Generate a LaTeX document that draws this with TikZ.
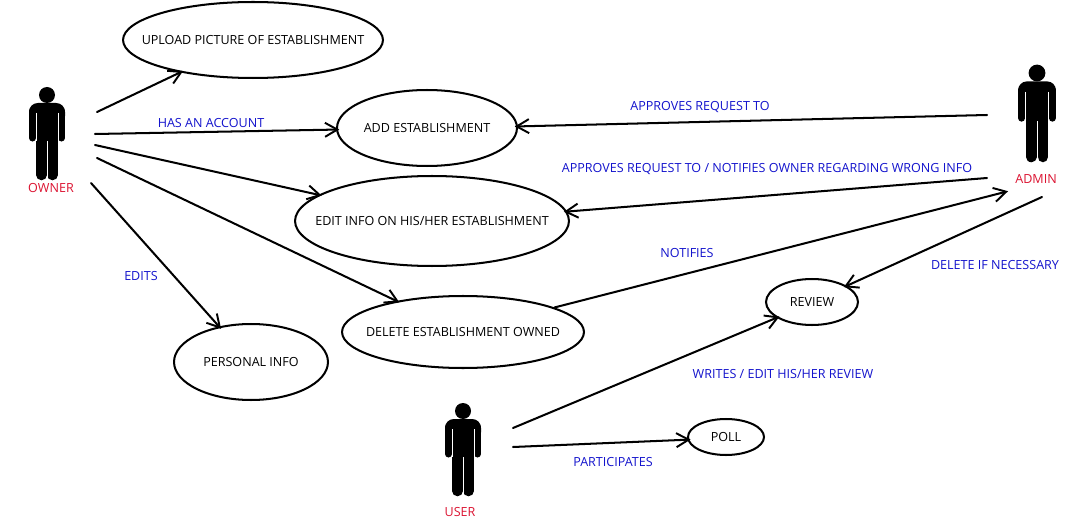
\documentclass[tikz,border=0pt]{standalone}
\usepackage{fontspec}
\setmainfont{Open Sans}
\usepackage{tikz}
\usetikzlibrary{arrows.meta,shapes.geometric}
\definecolor{labelblue}{RGB}{20,20,205}
\definecolor{labelred}{RGB}{220,20,50}
\newcommand{\uctext}[1]{\makebox[0pt]{\raisebox{-0.5pt}{#1}}}
\tikzset{
  usecase/.style={draw,ellipse,line width=1.15pt,inner sep=0pt,font=\fontsize{7.15}{8}\selectfont},
  rel/.style={line width=1.15pt,line cap=round},
  relarrow/.style={rel,shorten >=-1.8pt,-{Straight Barb[length=7pt,width=8pt,line width=1.1pt]}},
  bluelabel/.style={text=labelblue,font=\fontsize{7.15}{8}\selectfont,inner sep=0pt,yshift=-0.5pt},
  redlabel/.style={text=labelred,font=\fontsize{7.15}{8}\selectfont,inner sep=0pt,yshift=-0.5pt},
  actor/.pic={
    \fill (0,0) circle (8);
    \fill[rounded corners=5pt] (-18,30) -- (-18,8) -- (18,8) -- (18,30) -- cycle;
    \fill (-11,20) rectangle (11,46);
    \draw[line width=4pt,line cap=round] (-14.5,16) -- (-14.5,43) (14.5,16) -- (14.5,43);
    \draw[line width=6pt,line cap=round] (-5.5,40) -- (-5.5,80) (5.5,40) -- (5.5,80);
    \draw[white,line width=0.55pt] (-11,18) -- (-11,46) (11,18) -- (11,46) (0,46) -- (0,86);
  }
}
\begin{document}
\begin{tikzpicture}[x=0.02cm,y=-0.02cm]
\useasboundingbox (0,0) rectangle (1088,520);
\fill[white] (0,0) rectangle (1088,520);
% actors
\pic at (47,95) {actor};
\pic[scale=1.05] at (1037,73) {actor};
\pic at (463,411) {actor};
\node[redlabel] (owner) at (51,187) {OWNER};
\node[redlabel] (admin) at (1036,178) {ADMIN};
\node[redlabel] (user) at (460,511) {USER};
% use cases
\node[usecase,minimum width=5.2cm,minimum height=1.52cm] (upload) at (253,40) {\uctext{UPLOAD PICTURE OF ESTABLISHMENT}};
\node[usecase,minimum width=3.6cm,minimum height=1.52cm] (add) at (427,128) {\uctext{ADD ESTABLISHMENT}};
\node[usecase,minimum width=5.48cm,minimum height=1.8cm] (edit) at (432,221) {\uctext{EDIT INFO ON HIS/HER ESTABLISHMENT}};
\node[usecase,minimum width=4.84cm,minimum height=1.44cm] (delete) at (463,332) {\uctext{DELETE ESTABLISHMENT OWNED}};
\node[usecase,minimum width=3.08cm,minimum height=1.52cm] (personal) at (251,362) {\uctext{PERSONAL INFO}};
\node[usecase,minimum width=1.84cm,minimum height=0.92cm] (review) at (812,302) {\uctext{REVIEW}};
\node[usecase,minimum width=1.52cm,minimum height=0.72cm] (poll) at (726,437) {\uctext{POLL}};
% free ends beside the actors
\coordinate (ownerA) at (97,112);
\coordinate (ownerB) at (95,134);
\coordinate (ownerC) at (95,145);
\coordinate (ownerD) at (97,158);
\coordinate (ownerE) at (91,183);
\coordinate (adminA) at (987,115);
\coordinate (adminB) at (987,178);
\coordinate (adminC) at (1005,192);
\coordinate (adminD) at (1042,197);
\coordinate (userA) at (513,428);
\coordinate (userB) at (513,447);
% connectors
\draw[relarrow] (ownerA) -- (upload.204);
\draw[relarrow] (ownerB) -- (add.181);
\draw[relarrow] (ownerC) -- (edit.167);
\draw[relarrow] (ownerD) -- (delete.155);
\draw[relarrow] (ownerE) -- (personal.132);
\draw[relarrow] (adminA) -- (add.1);
\draw[relarrow] (adminB) -- (edit.4);
\draw[relarrow] (delete.15) -- (adminC);
\draw[relarrow] (adminD) -- (review.25);
\draw[relarrow] (userA) -- (review.204);
\draw[relarrow] (userB) -- (poll.184);
% labels
\node[bluelabel] (hasaccount) at (211,122) {HAS AN ACCOUNT};
\node[bluelabel] (edits) at (141,275) {EDITS};
\node[bluelabel] (approves) at (700,106) {APPROVES REQUEST TO};
\node[bluelabel] (notifyowner) at (767,168) {APPROVES REQUEST TO / NOTIFIES OWNER REGARDING WRONG INFO};
\node[bluelabel] (notifies) at (687,252) {NOTIFIES};
\node[bluelabel] (deleteif) at (995,264) {DELETE IF NECESSARY};
\node[bluelabel] (writes) at (783,373) {WRITES / EDIT HIS/HER REVIEW};
\node[bluelabel] (participates) at (613,461) {PARTICIPATES};
\end{tikzpicture}
\end{document}
